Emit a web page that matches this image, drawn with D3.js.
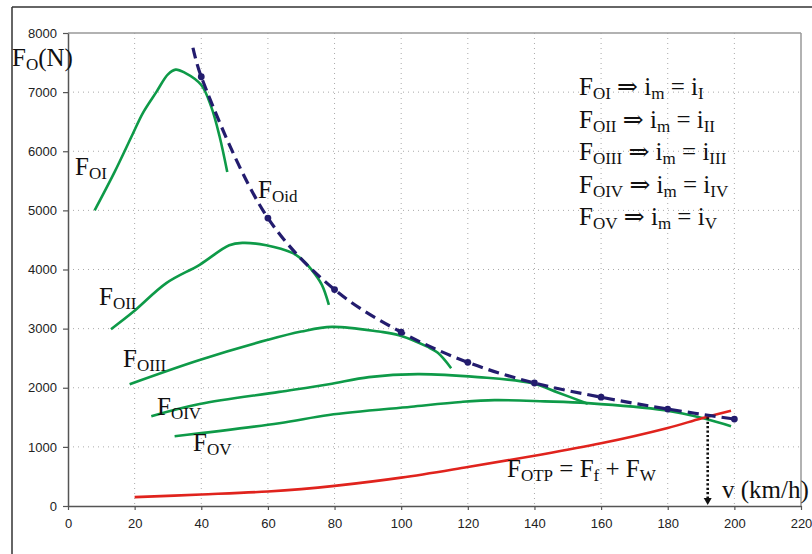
<!DOCTYPE html>
<html><head><meta charset="utf-8">
<script src="https://cdn.jsdelivr.net/npm/d3@7"></script>
<style>body{margin:0;background:#fff}svg{display:block}</style>
</head><body>
<script>
// ---- data (v in km/h, F in N) ----
const xTicks = [0,20,40,60,80,100,120,140,160,180,200,220];
const yTicks = [0,1000,2000,3000,4000,5000,6000,7000,8000];

const FOI   = [[8,5000],[14,5650],[19.5,6300],[22.5,6650],[26.5,7000],[30,7300],[32.3,7380],[35,7330],[40,7120],[43,6750],[45.5,6250],[47.8,5650]];
const FOII  = [[12.9,2990],[19.5,3280],[29.5,3770],[39.5,4080],[48.4,4410],[52.3,4450],[59.5,4410],[67.3,4280],[70,4180],[73.2,3990],[76.2,3740],[78.3,3400]];
const FOIII = [[18.5,2060],[39.5,2470],[60,2810],[70,2950],[79.2,3030],[93.3,2950],[99.3,2890],[108,2690],[111,2590],[115,2330]];
const FOIV  = [[25,1520],[39.5,1725],[63.4,1930],[78.3,2060],[90.3,2180],[105,2230],[123,2180],[139,2080],[147,1920],[156,1730]];
const FOV   = [[32,1180],[63.4,1400],[78.3,1540],[103,1680],[118,1760],[128,1790],[143,1770],[156,1740],[179,1620],[191,1480],[199,1350]];
const FOTP  = [[20,150],[40,195],[60,245],[70,285],[80,340],[100,480],[120,660],[140,850],[160,1060],[180,1320],[190,1480],[199,1610]];
const FOid  = [[37.5,7750],[40,7260],[60,4870],[80,3660],[100,2940],[120,2430],[140,2080],[160,1840],[180,1640],[200,1470]];
const FOidMarkers = [[40,7260],[60,4870],[80,3660],[100,2940],[120,2430],[140,2080],[160,1840],[180,1640],[200,1470]];
const vMax = [192, 1500];

// annotation texts: [text, isSubscript] pieces
const curveLabels = [
  {parts:[["F",0],["OI",1]], px:75, py:175},
  {parts:[["F",0],["Oid",1]], px:258, py:198},
  {parts:[["F",0],["OII",1]], px:99, py:305},
  {parts:[["F",0],["OIII",1]], px:123, py:367},
  {parts:[["F",0],["OIV",1]], px:157, py:415},
  {parts:[["F",0],["OV",1]], px:193, py:451},
  {parts:[["F",0],["OTP",1],[" = F",0],["f",1],[" + F",0],["W",1]], px:507, py:477},
  {parts:[["v (km/h)",0]], px:722, py:498},
  {parts:[["F",0],["O",1],["(N)",0]], px:12, py:66}
];
const legendRows = [
  [["F",0],["OI",1],[" \u21D2 i",0],["m",1],[" = i",0],["I",1]],
  [["F",0],["OII",1],[" \u21D2 i",0],["m",1],[" = i",0],["II",1]],
  [["F",0],["OIII",1],[" \u21D2 i",0],["m",1],[" = i",0],["III",1]],
  [["F",0],["OIV",1],[" \u21D2 i",0],["m",1],[" = i",0],["IV",1]],
  [["F",0],["OV",1],[" \u21D2 i",0],["m",1],[" = i",0],["V",1]]
];

// ---- drawing ----
const W = 812, H = 554;
const svg = d3.select("body").append("svg").attr("width", W).attr("height", H);
const x = d3.scaleLinear().domain([0,220]).range([68,801]);
const y = d3.scaleLinear().domain([0,8000]).range([506,33]);

// outer frame
svg.append("line").attr("x1",12).attr("y1",7).attr("x2",W).attr("y2",7).attr("stroke","#333").attr("stroke-width",1.5);
svg.append("line").attr("x1",12).attr("y1",7).attr("x2",12).attr("y2",H).attr("stroke","#333").attr("stroke-width",1.5);

// grid
const grid = svg.append("g");
grid.selectAll(".gx").data(xTicks.filter(d=>d>0 && d<220)).join("line")
  .attr("x1",d=>x(d)).attr("x2",d=>x(d)).attr("y1",y(8000)).attr("y2",y(0))
  .attr("stroke","#aaa").attr("stroke-width",1).attr("stroke-dasharray","1,4");
grid.selectAll(".gy").data(yTicks.filter(d=>d>0 && d<8000)).join("line")
  .attr("x1",x(0)).attr("x2",x(220)).attr("y1",d=>y(d)).attr("y2",d=>y(d))
  .attr("stroke","#aaa").attr("stroke-width",1).attr("stroke-dasharray","1,4");
// plot box top/right
svg.append("line").attr("x1",x(0)).attr("x2",x(220)).attr("y1",y(8000)).attr("y2",y(8000)).attr("stroke","#999").attr("stroke-width",1.5);
svg.append("line").attr("x1",x(220)).attr("x2",x(220)).attr("y1",y(8000)).attr("y2",y(0)).attr("stroke","#999").attr("stroke-width",1.5);

// axes
const xAxis = svg.append("g").attr("transform",`translate(0,${y(0)})`)
  .call(d3.axisBottom(x).tickValues(xTicks).tickSize(4).tickSizeOuter(0).tickPadding(14).tickFormat(d3.format("d")));
const yAxis = svg.append("g").attr("transform",`translate(${x(0)},0)`)
  .call(d3.axisLeft(y).tickValues(yTicks).tickSize(5).tickSizeOuter(0).tickPadding(6).tickFormat(d3.format("d")));
[xAxis,yAxis].forEach(a=>{
  a.select(".domain").attr("stroke","#555").attr("stroke-width",1.5);
  a.selectAll(".tick line").attr("stroke","#555").attr("stroke-width",1.2);
  a.selectAll("text").attr("font-family","'Liberation Sans', Arial, sans-serif").attr("font-size",13).attr("fill","#222");
});
xAxis.selectAll("text").attr("dy","0.3em");

// curves
const line = d3.line().x(d=>x(d[0])).y(d=>y(d[1])).curve(d3.curveCatmullRom.alpha(0.5));
const green = "#0e9a48";
[FOI,FOII,FOIII,FOIV,FOV].forEach(s=>{
  svg.append("path").attr("d",line(s)).attr("fill","none").attr("stroke",green).attr("stroke-width",2.6).attr("stroke-linejoin","round");
});
svg.append("path").attr("d",line(FOTP)).attr("fill","none").attr("stroke","#e0231d").attr("stroke-width",2.6);
svg.append("path").attr("d",line(FOid)).attr("fill","none").attr("stroke","#231c6e").attr("stroke-width",3.2).attr("stroke-dasharray","11,6");
svg.selectAll(".mk").data(FOidMarkers).join("circle").attr("cx",d=>x(d[0])).attr("cy",d=>y(d[1])).attr("r",3.4).attr("fill","#231c6e");

// vertical arrow at max speed
svg.append("line").attr("x1",x(vMax[0])).attr("x2",x(vMax[0])).attr("y1",y(vMax[1])).attr("y2",y(0)-7)
  .attr("stroke","#111").attr("stroke-width",2.6).attr("stroke-dasharray","2.2,2.2");
svg.append("path").attr("d",`M${x(vMax[0])-4},${y(0)-8} L${x(vMax[0])+4},${y(0)-8} L${x(vMax[0])},${y(0)-1} Z`).attr("fill","#111");

// text helpers
function richText(g, parts, px, py){
  const t = g.append("text").attr("x",px).attr("y",py)
    .attr("font-family","'Liberation Serif','Times New Roman','DejaVu Serif',serif").attr("fill","#111");
  let lastSub = false;
  parts.forEach(([s,sub])=>{
    const sp = t.append("tspan").text(s).attr("font-size", sub?17:25);
    if(sub && !lastSub) sp.attr("dy",4);
    if(!sub && lastSub) sp.attr("dy",-4);
    lastSub = !!sub;
  });
  t.attr("xml:space","preserve").style("white-space","pre");
  return t;
}
const ann = svg.append("g");
curveLabels.forEach(l=>richText(ann,l.parts,l.px,l.py));
legendRows.forEach((r,i)=>richText(ann,r,579,95+i*32.5));
</script>
</body></html>
